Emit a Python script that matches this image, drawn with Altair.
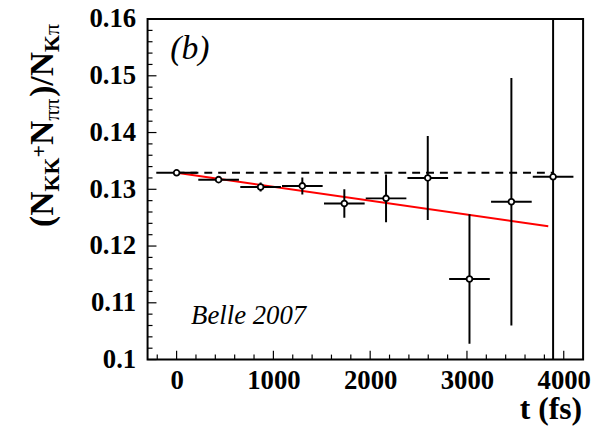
import altair as alt
import pandas as pd

# ---- data ----
t_fs = [0, 434, 868, 1299, 1733, 2164, 2595, 3026, 3459, 3890]
ratio = [0.1329, 0.1317, 0.1304, 0.1306, 0.1275, 0.1284, 0.1320, 0.1142, 0.1278, 0.1322]
ratio_err = [0.0002, 0.0004, 0.0008, 0.0015, 0.0025, 0.0042, 0.0074, 0.0114, 0.0218, 0.0400]
t_halfbin = [210, 210, 210, 210, 210, 210, 210, 210, 210, 210]

fit_t = [0, 3840]
fit_y = [0.1329, 0.1235]

ref_t = [0, 3890]
ref_y = [0.1329, 0.1329]

x_labels = [0, 1000, 2000, 3000, 4000]
x_minor = [-200, 200, 400, 600, 800, 1200, 1400, 1600, 1800, 2200, 2400, 2600, 2800,
           3200, 3400, 3600, 3800]
y_labels = [0.10, 0.11, 0.12, 0.13, 0.14, 0.15, 0.16]
y_minor = [0.102, 0.104, 0.106, 0.108, 0.112, 0.114, 0.116, 0.118, 0.122, 0.124, 0.126, 0.128,
           0.132, 0.134, 0.136, 0.138, 0.142, 0.144, 0.146, 0.148, 0.152, 0.154, 0.156, 0.158]

W, H = 440, 344
PL, PT = 141, 9  # plot origin inside svg (page coords = +8)
TOTAL_H = 420
FONT = "Liberation Serif"

df = pd.DataFrame({
    "t": t_fs,
    "r": ratio,
    "lo": [r - e for r, e in zip(ratio, ratio_err)],
    "hi": [r + e for r, e in zip(ratio, ratio_err)],
    "tlo": [t - h for t, h in zip(t_fs, t_halfbin)],
    "thi": [t + h for t, h in zip(t_fs, t_halfbin)],
})

xscale = alt.Scale(domain=[-300, 4200], nice=False, zero=False)
yscale = alt.Scale(domain=[0.1, 0.16], nice=False, zero=False)
xaxis = alt.Axis(values=x_labels, ticks=False, tickSize=0, domain=False, grid=False,
                 labelFont=FONT, labelFontWeight="bold", labelFontSize=27, labelColor="black",
                 labelPadding=8, title=None, labelFlush=False, labelOverlap=False, format="d")
yaxis = alt.Axis(values=y_labels, ticks=False, tickSize=0, domain=False, grid=False,
                 labelFont=FONT, labelFontWeight="bold", labelFontSize=27, labelColor="black",
                 labelPadding=12, title=None, format="~g", labelOverlap=False)


def X(f):
    return alt.X(f, type="quantitative", scale=xscale, axis=xaxis)


def Y(f):
    return alt.Y(f, type="quantitative", scale=yscale, axis=yaxis)


base = alt.Chart(df)

ref_line = alt.Chart(pd.DataFrame({"t": ref_t, "y": ref_y})).mark_line(
    color="black", strokeWidth=2, strokeDash=[8, 6]).encode(x=X("t"), y=Y("y"))
fit_line = alt.Chart(pd.DataFrame({"t": fit_t, "y": fit_y})).mark_line(
    color="#ff0000", strokeWidth=2).encode(x=X("t"), y=Y("y"))

xerr = base.mark_rule(color="black", strokeWidth=2).encode(x=X("tlo"), x2="thi", y=Y("r"))
yerr = base.mark_rule(color="black", strokeWidth=2, clip=True).encode(x=X("t"), y=Y("lo"), y2="hi")
pts = base.mark_point(shape="circle", filled=True, fill="white", stroke="black",
                      strokeWidth=1.8, size=34, opacity=1).encode(x=X("t"), y=Y("r"))

xt_major = alt.Chart(pd.DataFrame({"v": x_labels})).mark_rule(color="black", strokeWidth=1.2).encode(
    x=X("v"), y=alt.value(H), y2=alt.value(H - 9))
xt_minor = alt.Chart(pd.DataFrame({"v": x_minor})).mark_rule(color="black", strokeWidth=1.2).encode(
    x=X("v"), y=alt.value(H), y2=alt.value(H - 5))
yt_major = alt.Chart(pd.DataFrame({"v": y_labels})).mark_rule(color="black", strokeWidth=1.2).encode(
    y=Y("v"), x=alt.value(0), x2=alt.value(9))
yt_minor = alt.Chart(pd.DataFrame({"v": y_minor})).mark_rule(color="black", strokeWidth=1.2).encode(
    y=Y("v"), x=alt.value(0), x2=alt.value(5))


def label(txt, x, y, size, weight="normal", style="normal", align="left", angle=0):
    kw = dict(font=FONT, fontSize=size, fontWeight=weight, fontStyle=style, align=align,
              baseline="alphabetic", color="black")
    if angle:
        kw["angle"] = angle
    return alt.Chart(alt.Data(values=[{"s": txt}])).mark_text(**kw).encode(
        text="s:N", x=alt.value(x), y=alt.value(y))


texts = [
    label("(b)", 172 - 149, 57 - 17, 34, style="italic"),
    label("Belle 2007", 193 - 149, 325 - 17, 27, style="italic"),
    label("t (fs)", 588 - 149, 421 - 17, 32, weight="bold", align="right"),
]

# y title: (N_KK + N_ππ)/N_Kπ, rotated, composed of pieces
GW = {"(": 0.333, "N": 0.722, "K": 0.778, "+": 0.570, ")": 0.333, "/": 0.278, "π": 0.55}
pieces = [("(N", 34, "bold", 53), ("KK", 22, "bold", 60), ("+", 22, "bold", 46),
          ("N", 34, "bold", 53), ("ππ", 22, "normal", 60), (")/N", 34, "bold", 53),
          ("K", 22, "bold", 60), ("π", 22, "normal", 60)]
ypos = 227.0
for txt, size, weight, xb in pieces:
    texts.append(label(txt, xb - 149, ypos - 17, size, weight=weight, angle=270))
    ypos -= sum(GW[c] for c in txt) * size

chart = alt.layer(
    xt_minor, xt_major, yt_minor, yt_major,
    ref_line, fit_line, xerr, yerr, pts, *texts
).properties(
    width=W, height=H,
    autosize=alt.AutoSizeParams(type="none"),
    padding={"left": PL, "top": PT, "right": 10, "bottom": TOTAL_H - PT - H},
    background="white",
).configure_view(stroke="black", strokeWidth=2)

chart.save("out.html", embed_options={"renderer": "svg", "actions": False})
